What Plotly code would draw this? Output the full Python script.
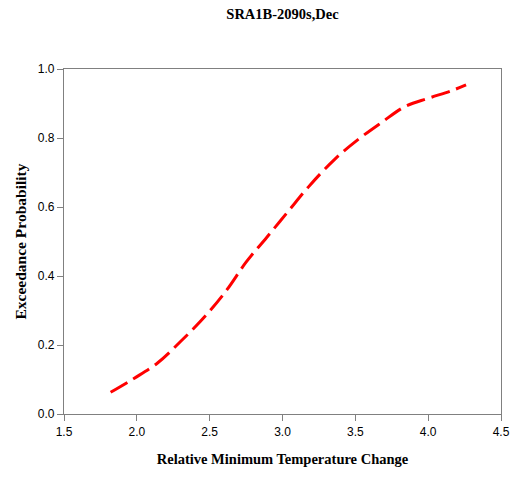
import plotly.graph_objects as go

temp_change = [1.82, 1.98, 2.14, 2.30, 2.47, 2.62, 2.75, 2.89, 3.04, 3.19, 3.36, 3.52, 3.68, 3.84, 4.00, 4.16, 4.26]
exceed_prob = [0.063, 0.103, 0.147, 0.21, 0.284, 0.361, 0.44, 0.511, 0.588, 0.664, 0.739, 0.796, 0.845, 0.891, 0.915, 0.937, 0.954]

x_ticks = [1.5, 2.0, 2.5, 3.0, 3.5, 4.0, 4.5]
y_ticks = [0.0, 0.2, 0.4, 0.6, 0.8, 1.0]

fig = go.Figure()
fig.add_trace(go.Scatter(
    x=temp_change, y=exceed_prob, mode="lines",
    line=dict(color="#ff0000", width=3, dash="19px,7px", shape="spline", smoothing=1.0),
    showlegend=False,
))

axis_common = dict(
    showline=True, linecolor="#808080", linewidth=1.2, mirror=True,
    ticks="outside", ticklen=6, tickcolor="#808080", tickwidth=1.2,
    showgrid=False, zeroline=False,
    tickfont=dict(family="Liberation Sans, Arial", size=12, color="#000000"),
)

fig.update_layout(
    width=514, height=477,
    margin=dict(l=64, r=13, t=69, b=63),
    paper_bgcolor="white", plot_bgcolor="white",
    title=dict(text="<b>SRA1B-2090s,Dec</b>", x=282.5 / 514, xanchor="center",
               y=1 - 14 / 477, yanchor="middle",
               font=dict(family="Liberation Serif, Times New Roman", size=14.5, color="#000000")),
    xaxis=dict(range=[1.5, 4.5], tickvals=x_ticks, ticktext=[f"{v:.1f}" for v in x_ticks],
               title=dict(text="<b>Relative Minimum Temperature Change</b>", standoff=16,
                          font=dict(family="Liberation Serif, Times New Roman", size=14.5, color="#000000")),
               **axis_common),
    yaxis=dict(range=[0, 1.0], tickvals=y_ticks, ticktext=[f"{v:.1f}" for v in y_ticks],
               title=dict(text="<b>Exceedance Probability</b>", standoff=7,
                          font=dict(family="Liberation Serif, Times New Roman", size=15.5, color="#000000")),
               **axis_common),
)
fig.update_xaxes(automargin=False)
fig.update_yaxes(automargin=False)

fig.write_html("out.html")
